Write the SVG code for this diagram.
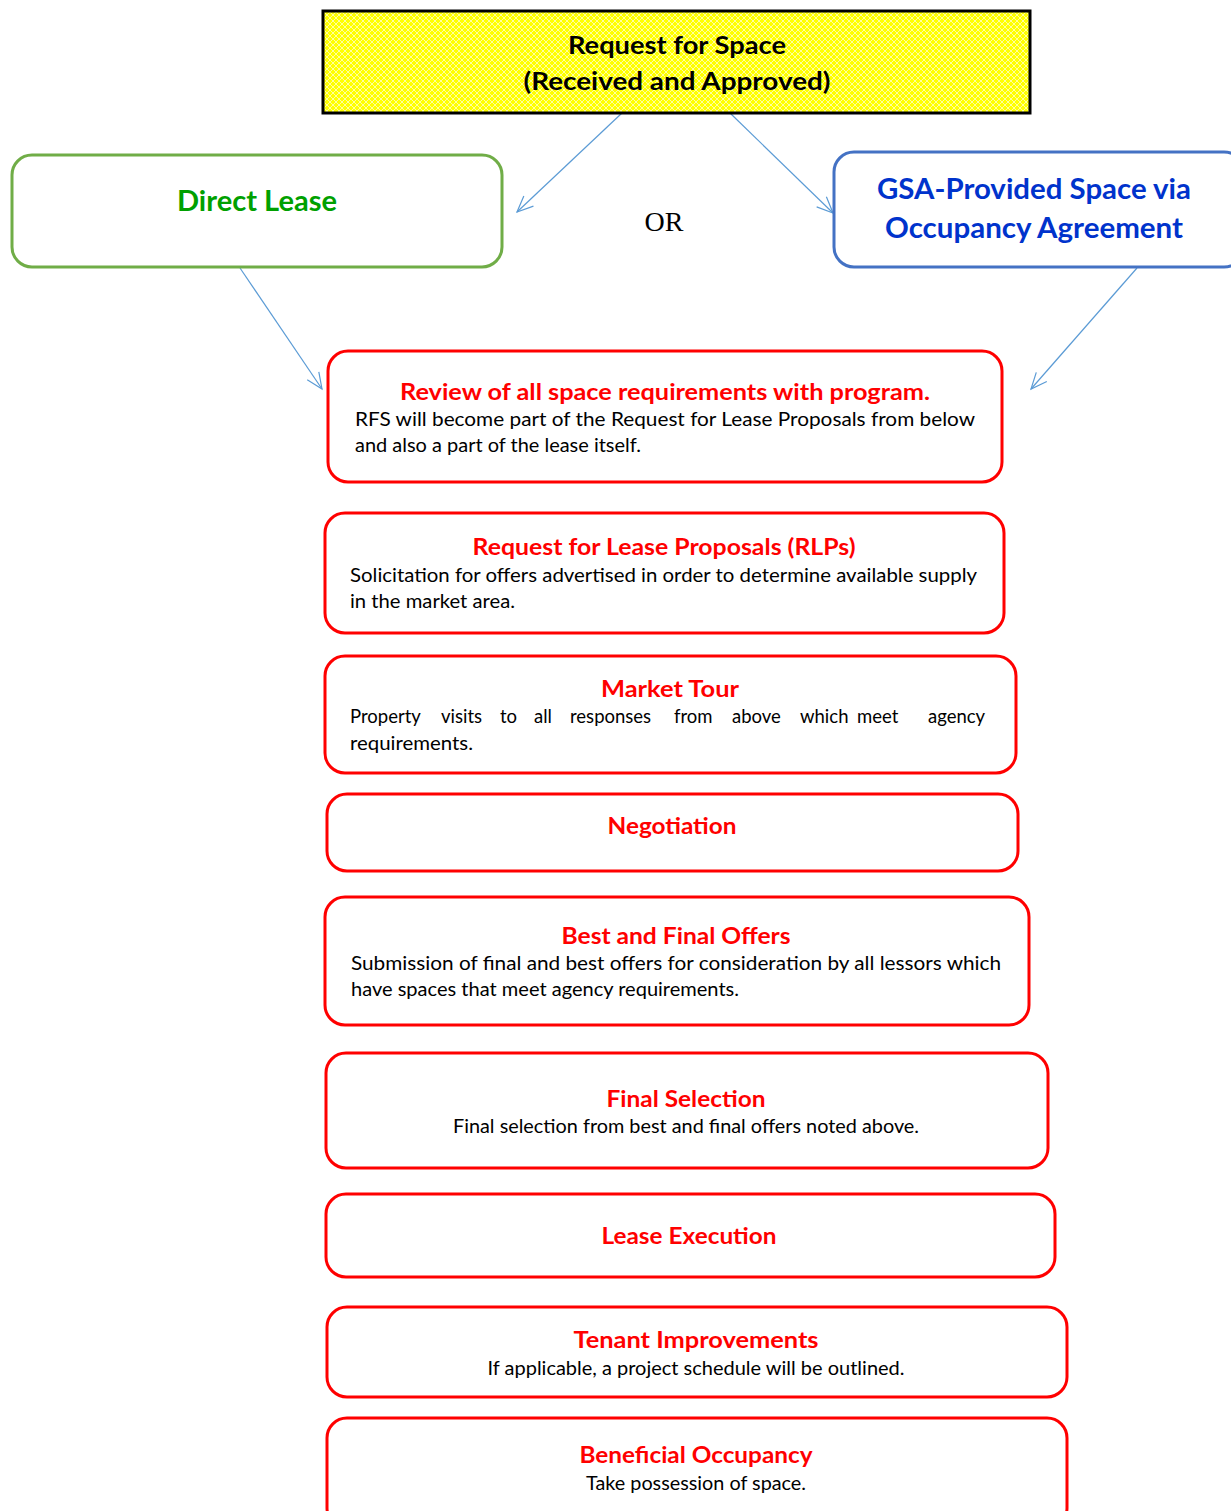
<svg xmlns="http://www.w3.org/2000/svg" width="1231" height="1511" viewBox="0 0 1231 1511">
<defs>
<pattern id="lattice" width="6" height="6" patternUnits="userSpaceOnUse">
<rect width="6" height="6" fill="#FFFF00"/>
<path d="M0,0 L6,6 M6,0 L0,6" stroke="#FFFFB0" stroke-width="0.9"/>
</pattern>
<marker id="arr" viewBox="0 0 20 20" refX="18" refY="10" markerWidth="20" markerHeight="20" markerUnits="userSpaceOnUse" orient="auto">
<path d="M2,3 L18,10 L2,17" fill="none" stroke="#5B9BD5" stroke-width="1.2"/>
</marker>
</defs>
<style>
.red{fill:#fff;stroke:#FF0000;stroke-width:3}
.title{font-family:Lato,"Liberation Sans",sans-serif;font-weight:bold;font-size:23px;fill:#FF0000;text-anchor:middle}
.body{font-family:Lato,"Liberation Sans",sans-serif;font-size:18.5px;fill:#000}
.mid{text-anchor:middle}
.hd{font-family:Lato,"Liberation Sans",sans-serif;font-weight:bold;text-anchor:middle}
.conn{stroke:#5B9BD5;stroke-width:1.2;fill:none;marker-end:url(#arr)}
</style>
<rect width="1231" height="1511" fill="#fff"/>

<g id="connectors">
<line class="conn" x1="622" y1="113" x2="517" y2="212"/>
<line class="conn" x1="730" y1="113" x2="833" y2="213"/>
<line class="conn" x1="240" y1="268" x2="322" y2="389"/>
<line class="conn" x1="1137" y1="268" x2="1031" y2="389"/>
</g>

<g id="request">
<rect x="323" y="11" width="707" height="102" fill="url(#lattice)" stroke="#000" stroke-width="3"/>
<text x="677" y="54" class="hd" style="font-size:25px;fill:#000" textLength="218" lengthAdjust="spacingAndGlyphs">Request for Space</text>
<text x="677" y="90" class="hd" style="font-size:25px;fill:#000" textLength="307" lengthAdjust="spacingAndGlyphs">(Received and Approved)</text>
</g>

<g id="direct">
<rect x="12" y="155" width="490" height="112" rx="20" fill="#fff" stroke="#70AD47" stroke-width="3"/>
<text x="257" y="211" class="hd" style="font-size:29px;fill:#00A000" textLength="160" lengthAdjust="spacingAndGlyphs">Direct Lease</text>
</g>

<g id="or">
<text x="664" y="231" class="mid" style="font-family:'Liberation Serif',serif;font-size:28px;fill:#000">OR</text>
</g>

<g id="gsa">
<rect x="834" y="152" width="410" height="115" rx="20" fill="#fff" stroke="#4472C4" stroke-width="3"/>
<text x="1034" y="199" class="hd" style="font-size:29px;fill:#0033CC" textLength="314" lengthAdjust="spacingAndGlyphs">GSA-Provided Space via</text>
<text x="1034" y="238" class="hd" style="font-size:29px;fill:#0033CC" textLength="298" lengthAdjust="spacingAndGlyphs">Occupancy Agreement</text>
</g>

<g id="review">
<rect class="red" x="328" y="351" width="674" height="131" rx="20"/>
<text class="title" x="665" y="400" textLength="530" lengthAdjust="spacingAndGlyphs">Review of all space requirements with program.</text>
<text class="body" x="355" y="426" textLength="620" lengthAdjust="spacingAndGlyphs">RFS will become part of the Request for Lease Proposals from below</text>
<text class="body" x="355" y="452" textLength="286" lengthAdjust="spacingAndGlyphs">and also a part of the lease itself.</text>
</g>

<g id="rlp">
<rect class="red" x="325" y="513" width="679" height="120" rx="20"/>
<text class="title" x="664" y="555" textLength="383" lengthAdjust="spacingAndGlyphs">Request for Lease Proposals (RLPs)</text>
<text class="body" x="350" y="582" textLength="627" lengthAdjust="spacingAndGlyphs">Solicitation for offers advertised in order to determine available supply</text>
<text class="body" x="350" y="608" textLength="165" lengthAdjust="spacingAndGlyphs">in the market area.</text>
</g>

<g id="tour">
<rect class="red" x="325" y="656" width="691" height="117" rx="20"/>
<text class="title" x="670" y="697" textLength="138" lengthAdjust="spacingAndGlyphs">Market Tour</text>
<text class="body" y="723"><tspan x="350">Property</tspan><tspan x="441">visits</tspan><tspan x="500">to</tspan><tspan x="534">all</tspan><tspan x="570">responses</tspan><tspan x="674">from</tspan><tspan x="732">above</tspan><tspan x="800">which</tspan><tspan x="857">meet</tspan><tspan x="928">agency</tspan></text>
<text class="body" x="350" y="750" textLength="123" lengthAdjust="spacingAndGlyphs">requirements.</text>
</g>

<g id="negotiation">
<rect class="red" x="327" y="794" width="691" height="77" rx="20"/>
<text class="title" x="672" y="834" textLength="129" lengthAdjust="spacingAndGlyphs">Negotiation</text>
</g>

<g id="bafo">
<rect class="red" x="325" y="897" width="704" height="128" rx="20"/>
<text class="title" x="676" y="944" textLength="229" lengthAdjust="spacingAndGlyphs">Best and Final Offers</text>
<text class="body" x="351" y="970" textLength="650" lengthAdjust="spacingAndGlyphs">Submission of final and best offers for consideration by all lessors which</text>
<text class="body" x="351" y="996" textLength="388" lengthAdjust="spacingAndGlyphs">have spaces that meet agency requirements.</text>
</g>

<g id="selection">
<rect class="red" x="326" y="1053" width="722" height="115" rx="20"/>
<text class="title" x="686" y="1107" textLength="159" lengthAdjust="spacingAndGlyphs">Final Selection</text>
<text class="body mid" x="686" y="1133" textLength="466" lengthAdjust="spacingAndGlyphs">Final selection from best and final offers noted above.</text>
</g>

<g id="execution">
<rect class="red" x="326" y="1194" width="729" height="83" rx="20"/>
<text class="title" x="689" y="1244" textLength="175" lengthAdjust="spacingAndGlyphs">Lease Execution</text>
</g>

<g id="tenant">
<rect class="red" x="327" y="1307" width="740" height="90" rx="20"/>
<text class="title" x="696" y="1348" textLength="245" lengthAdjust="spacingAndGlyphs">Tenant Improvements</text>
<text class="body mid" x="696" y="1375" textLength="417" lengthAdjust="spacingAndGlyphs">If applicable, a project schedule will be outlined.</text>
</g>

<g id="occupancy">
<rect class="red" x="327" y="1418" width="740" height="110" rx="20"/>
<text class="title" x="696" y="1463" textLength="233" lengthAdjust="spacingAndGlyphs">Beneficial Occupancy</text>
<text class="body mid" x="696" y="1490" textLength="220" lengthAdjust="spacingAndGlyphs">Take possession of space.</text>
</g>
</svg>
